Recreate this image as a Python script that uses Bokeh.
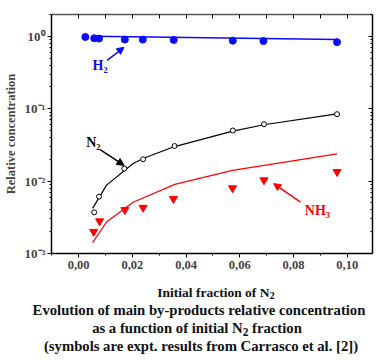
from bokeh.plotting import figure
from bokeh.layouts import column
from bokeh.models import (LinearAxis, LogAxis, FixedTicker, CustomJSTickFormatter,
                          Label, Arrow, NormalHead, Range1d, Div)
from bokeh.embed import file_html
from bokeh.resources import INLINE

# ---- data ----
h2_x = [0.0025, 0.0058, 0.0076, 0.0172, 0.0239, 0.0354, 0.0574, 0.0688, 0.0962]
h2_y = [0.98, 0.94, 0.93, 0.90, 0.90, 0.89, 0.87, 0.86, 0.83]
h2_line_x = [0.0058, 0.0962]
h2_line_y = [1.0, 0.90]

n2_x = [0.0058, 0.0076, 0.0170, 0.0240, 0.0357, 0.0574, 0.0690, 0.0962]
n2_y = [0.0037, 0.0061, 0.0149, 0.0200, 0.0305, 0.0500, 0.0610, 0.0840]
n2_line_x = [0.0052, 0.0104, 0.0203, 0.0240, 0.0357, 0.0574, 0.0690, 0.0962]
n2_line_y = [0.0042, 0.0088, 0.0175, 0.0205, 0.0300, 0.0490, 0.0600, 0.0850]

nh3_x = [0.0056, 0.0078, 0.0172, 0.0240, 0.0353, 0.0573, 0.0690, 0.0962]
nh3_y = [0.0020, 0.0028, 0.0040, 0.0043, 0.0057, 0.0080, 0.0103, 0.0134]
nh3_line_x = [0.0052, 0.0104, 0.0203, 0.0358, 0.0573, 0.0962]
nh3_line_y = [0.00141, 0.00272, 0.0051, 0.0090, 0.0141, 0.0237]

x_major = [0.0, 0.02, 0.04, 0.06, 0.08, 0.10]
x_minor = [-0.01, 0.01, 0.03, 0.05, 0.07, 0.09, 0.11]
x_all = [0.0, 0.01, 0.02, 0.03, 0.04, 0.05, 0.06, 0.07, 0.08, 0.09, 0.10]
y_major = [1e-3, 1e-2, 1e-1, 1.0]
y_minor = [m * d for d in [1e-3, 1e-2, 1e-1, 1.0] for m in [2, 3, 4, 5, 6, 7, 8, 9]]

x_title = "Initial fraction of N<sub>2</sub>"
caption = ["Evolution of main by-products relative concentration",
           "as a function of initial N<sub>2</sub> fraction",
           "(symbols are expt. results from Carrasco et al. [2])"]

FONT = "Liberation Serif"
BLUE = "#0a0aff"
RED = "#ff0000"

p = figure(width=377, height=280, x_axis_type="linear", y_axis_type="log",
           x_range=Range1d(-0.0101, 0.1094), y_range=Range1d(1e-3, 2.0),
           output_backend="svg", toolbar_location=None,
           min_border_left=51, min_border_right=5, min_border_top=14, min_border_bottom=27)
p.xgrid.visible = False
p.ygrid.visible = False
p.outline_line_color = None
p.background_fill_color = "white"
p.border_fill_color = "white"

# bottom axis
xa = p.xaxis[0]
xa.ticker = FixedTicker(ticks=x_major, minor_ticks=x_minor)
xa.formatter = CustomJSTickFormatter(code="return tick.toFixed(2).replace('.', ',');")
xa.axis_line_width = 1.5
xa.major_tick_out = 4
xa.major_tick_in = 0
xa.minor_tick_out = 2
xa.minor_tick_in = 0
xa.major_label_text_font = FONT
xa.major_label_text_font_style = "bold"
xa.major_label_text_font_size = "12.5px"
xa.major_label_standoff = 3

# left axis
ya = p.yaxis[0]
ya.ticker = FixedTicker(ticks=y_major, minor_ticks=y_minor)
ya.formatter = CustomJSTickFormatter(code="""
const e = Math.round(Math.log10(tick));
const sup = {'-':'\u207b','0':'\u2070','1':'\u00b9','2':'\u00b2','3':'\u00b3'};
return '10' + String(e).split('').map(c => sup[c]).join('');
""")
ya.axis_line_width = 1.5
ya.major_tick_out = 4
ya.major_tick_in = 0
ya.minor_tick_out = 2
ya.minor_tick_in = 0
ya.major_label_text_font = FONT
ya.major_label_text_font_style = "bold"
ya.major_label_text_font_size = "13px"
ya.major_label_standoff = 2
ya.axis_label = "Relative concentration"
ya.axis_label_text_font = FONT
ya.axis_label_text_font_style = "bold"
ya.axis_label_text_font_size = "12.5px"
ya.axis_label_standoff = 4

blank = CustomJSTickFormatter(code="return '';")

# top axis (ticks only)
top = LinearAxis(ticker=FixedTicker(ticks=x_all, minor_ticks=[]), formatter=blank,
                 major_label_text_font_size="1px", axis_line_width=1.5,
                 axis_line_color="#555555", major_tick_in=4, major_tick_out=0,
                 minor_tick_in=0, minor_tick_out=0, major_label_standoff=0)
p.add_layout(top, "above")

# right axis (ticks only)
right = LogAxis(ticker=FixedTicker(ticks=y_major, minor_ticks=y_minor), formatter=blank,
                major_label_text_font_size="1px", axis_line_width=1.5,
                major_tick_in=4, major_tick_out=0, minor_tick_in=2, minor_tick_out=0,
                major_label_standoff=0)
p.add_layout(right, "right")

# lines
p.line(h2_line_x, h2_line_y, line_color=BLUE, line_width=1.5)
p.line(n2_line_x, n2_line_y, line_color="black", line_width=1.2)
p.line(nh3_line_x, nh3_line_y, line_color=RED, line_width=1.2)

# symbols
p.scatter(h2_x, h2_y, marker="circle", size=7, fill_color=BLUE, line_color=BLUE)
p.scatter(n2_x, n2_y, marker="circle", size=5, fill_color="white", line_color="black", line_width=1)
p.scatter(nh3_x, nh3_y, marker="inverted_triangle", size=8, fill_color=RED, line_color=RED)

# labels
def lab(x, y, text, color, size="14px"):
    p.add_layout(Label(x=x, y=y, text=text, text_color=color, text_font=FONT,
                       text_font_style="bold", text_font_size=size,
                       text_align="center", text_baseline="middle"))

lab(0.0080, 0.40, "H\u2082", BLUE)
lab(0.0055, 0.034, "N\u2082", "black")
lab(0.0889, 0.0039, "NH\u2083", RED)

p.add_layout(Arrow(x_start=0.0106, y_start=0.466, x_end=0.0169, y_end=0.705,
                   line_color=BLUE, line_width=1.5,
                   end=NormalHead(size=7, fill_color=BLUE, line_color=BLUE)))
p.add_layout(Arrow(x_start=0.0080, y_start=0.0272, x_end=0.0169, y_end=0.0165,
                   line_color="black", line_width=1.5,
                   end=NormalHead(size=7, fill_color="black", line_color="black")))
p.add_layout(Arrow(x_start=0.0826, y_start=0.00514, x_end=0.0726, y_end=0.00923,
                   line_color=RED, line_width=1.5,
                   end=NormalHead(size=7, fill_color=RED, line_color=RED)))

# x-axis title and caption below the plot (absolutely placed lines)
sub_style = "font-size:0.78em;vertical-align:-0.22em;line-height:0;"
def fix(t):
    return t.replace("<sub>", f"<sub style='{sub_style}'>")

def line_html(text, cx, top_px, size):
    return (f"<div style='position:absolute;left:{cx}px;top:{top_px}px;"
            f"transform:translateX(-50%);white-space:nowrap;"
            f"font-size:{size}px;line-height:{size}px;'>{fix(text)}</div>")

html = (
    f"<div style=\"position:relative;width:377px;height:72px;font-family:'{FONT}';"
    f"font-weight:bold;color:#111;\">"
    + line_html(x_title, 211, 1, 13.5)
    + line_html(caption[0], 194, 17.5, 14.7)
    + line_html(caption[1], 192, 36, 14.7)
    + line_html(caption[2], 196, 54, 14.7)
    + "</div>"
)
div = Div(text=html, width=377, height=72, styles={"overflow": "hidden"})

layout = column(p, div, spacing=0)
open("out.html", "w").write(file_html(layout, INLINE))
